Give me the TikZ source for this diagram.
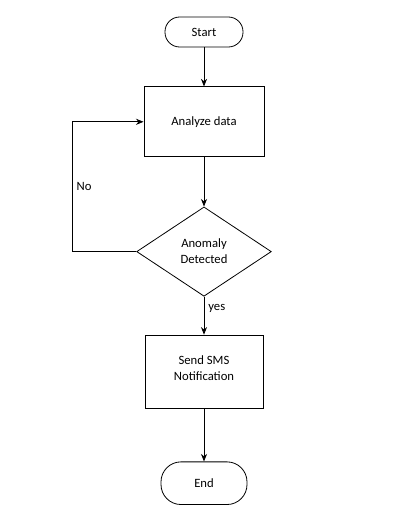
\documentclass[tikz,border=0pt]{standalone}
\usepackage{fontspec}
\setmainfont{Carlito}
\usepackage{tikz}
\usetikzlibrary{arrows.meta,positioning,shapes.geometric}

\begin{document}
\begin{tikzpicture}[node distance=30pt,font=\fontsize{9.5}{12}\selectfont,line width=0.6pt]
      \tikzstyle{term}=[draw,rounded corners=11pt,inner sep=0pt]
      \tikzstyle{proc}=[draw,inner sep=2pt,align=center]
      \tikzstyle{dec}=[diamond,draw,inner sep=0pt,align=center,minimum width=101pt,minimum height=67pt]
      \tikzstyle{arr}=[-{Stealth[length=2mm,width=1.6mm]}]
      \useasboundingbox (0,0) rectangle (300pt,-388.5pt);
      \node[term,minimum width=58.5pt,minimum height=22.5pt] (start) at (153pt,-24pt) {Start};
      \node[proc,below=29.25pt of start,minimum width=90pt,minimum height=52.5pt] (ana) {Analyze data};
      \node[dec,below=37pt of ana] (det) {Anomaly\\Detected};
      \node[proc,below=28.5pt of det,minimum width=88.5pt,minimum height=55pt] (sms) {Send SMS\\Notification\\[-6pt]};
      \node[term,below=39.5pt of sms,minimum width=64.5pt,minimum height=32pt,rounded corners=15pt] (end) {End};
      \coordinate[left=48pt of det.west] (back);
      \draw[arr] (start) -- (ana);
      \draw[arr] (ana) -- (det);
      \draw[arr] (det) -- node[pos=0.3,right,inner sep=3pt] {yes} (sms);
      \draw[arr] (sms) -- (end);
      \draw[arr] (det.west) -- (back) |- node[pos=0.25,right,inner sep=3pt] {No} (ana.west);
    \end{tikzpicture}
\end{document}
